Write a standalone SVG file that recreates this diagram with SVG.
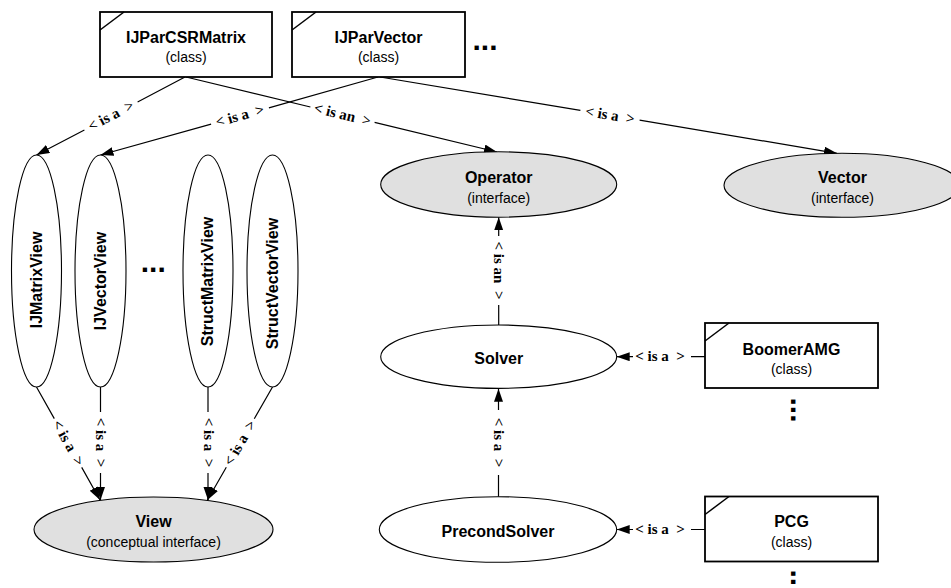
<svg xmlns="http://www.w3.org/2000/svg" width="951" height="588" viewBox="0 0 951 588">
<style>
  .box { fill: #fff; stroke: #000; stroke-width: 1.8; }
  .corner { fill: none; stroke: #000; stroke-width: 1.5; }
  .cls { fill: #fff; stroke: #000; stroke-width: 1.1; }
  .ifc { fill: #e0e0e0; stroke: #000; stroke-width: 1.1; }
  .name { font-family: "Liberation Sans", Arial, sans-serif; font-weight: bold; font-size: 16px; text-anchor: middle; fill: #000; }
  .sub { font-family: "Liberation Sans", Arial, sans-serif; font-size: 14px; text-anchor: middle; fill: #000; }
  .dots { font-family: "Liberation Sans", Arial, sans-serif; font-weight: bold; font-size: 30px; text-anchor: middle; fill: #000; }
  .lbl { font-family: "Liberation Serif", "Times New Roman", serif; font-weight: bold; font-size: 15px; text-anchor: middle; fill: #000; white-space: pre; }
  .edge { fill: none; stroke: #000; stroke-width: 1.2; }
</style>
<defs>
  <marker id="arr" markerUnits="userSpaceOnUse" markerWidth="14" markerHeight="10" refX="13" refY="4.5" orient="auto">
    <path d="M0,0 L13,4.5 L0,9 z" fill="#000"/>
  </marker>
</defs>
<rect width="951" height="588" fill="#fff"/>

<g id="connectors">
  <path class="edge" d="M185,77 L137.6,102 M84.4,130 L36.5,155" marker-end="url(#arr)"/>
  <path class="edge" d="M378,77 L268.9,107.9 M211.1,124.1 L100.5,155" marker-end="url(#arr)"/>
  <path class="edge" d="M186,77 L310.4,107 M374.6,122.4 L497,152" marker-end="url(#arr)"/>
  <path class="edge" d="M380,77 L580.4,110.4 M639.6,120.2 L837,153.3" marker-end="url(#arr)"/>
  <path class="edge" d="M498.7,325 L498.7,305 M498.7,236 L498.7,217.2" marker-end="url(#arr)"/>
  <path class="edge" d="M498.5,496.7 L498.5,475 M498.5,410 L498.5,388.7" marker-end="url(#arr)"/>
  <path class="edge" d="M705,356.7 L691,356.7 M633,356.7 L616.7,356.7" marker-end="url(#arr)"/>
  <path class="edge" d="M705,529.5 L691,529.5 M633,529.5 L616.7,529.5" marker-end="url(#arr)"/>
  <path class="edge" d="M36.5,387 L54.3,418.6 M81.7,467.4 L100,500" marker-end="url(#arr)"/>
  <path class="edge" d="M100.5,387 L100.5,412 M100.5,473 L100.5,500" marker-end="url(#arr)"/>
  <path class="edge" d="M208,387 L208,412 M208,473 L208,500" marker-end="url(#arr)"/>
  <path class="edge" d="M272.5,387 L254.3,418.7 M226.3,467.3 L207.5,500" marker-end="url(#arr)"/>

  <text class="lbl" xml:space="preserve" transform="translate(111,116) rotate(-27.7)" y="4.5">&lt; is a  &gt;</text>
  <text class="lbl" xml:space="preserve" transform="translate(240,116) rotate(-15.7)" y="4.5">&lt; is a  &gt;</text>
  <text class="lbl" xml:space="preserve" transform="translate(342.5,114.7) rotate(13.6)" y="4.5">&lt; is an  &gt;</text>
  <text class="lbl" xml:space="preserve" transform="translate(610,115.3) rotate(9.4)" y="4.5">&lt; is a  &gt;</text>
  <text class="lbl" xml:space="preserve" transform="translate(498.7,270.5) rotate(90)" y="4.5">&lt; is an  &gt;</text>
  <text class="lbl" xml:space="preserve" transform="translate(498.5,442.5) rotate(90)" y="4.5">&lt; is a  &gt;</text>
  <text class="lbl" xml:space="preserve" transform="translate(660,356.7)" y="4.5">&lt; is a  &gt;</text>
  <text class="lbl" xml:space="preserve" transform="translate(660,529.5)" y="4.5">&lt; is a  &gt;</text>
  <text class="lbl" xml:space="preserve" transform="translate(68,443) rotate(60.7)" y="4.5">&lt; is a  &gt;</text>
  <text class="lbl" xml:space="preserve" transform="translate(100.5,442.5) rotate(90)" y="4.5">&lt; is a  &gt;</text>
  <text class="lbl" xml:space="preserve" transform="translate(208,442.5) rotate(90)" y="4.5">&lt; is a  &gt;</text>
  <text class="lbl" xml:space="preserve" transform="translate(240.3,443) rotate(-60.1)" y="4.5">&lt; is a  &gt;</text>
</g>

<g id="IJParCSRMatrix">
  <rect class="box" x="100" y="12" width="172" height="65"/>
  <path class="corner" d="M100,30 L124,12"/>
  <text class="name" x="186" y="42.5">IJParCSRMatrix</text>
  <text class="sub" x="186" y="61.5">(class)</text>
</g>

<g id="IJParVector">
  <rect class="box" x="292" y="12" width="173" height="65"/>
  <path class="corner" d="M292,30 L316,12"/>
  <text class="name" x="378.5" y="42.5">IJParVector</text>
  <text class="sub" x="378.5" y="61.5">(class)</text>
</g>

<g id="more-classes">
  <text class="dots" x="485" y="50">...</text>
</g>

<g id="Operator">
  <ellipse class="ifc" cx="498.7" cy="184.5" rx="118" ry="32.7"/>
  <text class="name" x="498.7" y="183">Operator</text>
  <text class="sub" x="498.7" y="202.5">(interface)</text>
</g>

<g id="Vector">
  <ellipse class="ifc" cx="842" cy="185.3" rx="118" ry="32"/>
  <text class="name" x="842.5" y="183">Vector</text>
  <text class="sub" x="842.5" y="202.5">(interface)</text>
</g>

<g id="IJMatrixView">
  <ellipse class="cls" cx="36.5" cy="271" rx="25" ry="116"/>
  <text class="name" transform="translate(36.5,280) rotate(-90)" y="5.5">IJMatrixView</text>
</g>

<g id="IJVectorView">
  <ellipse class="cls" cx="100.5" cy="271" rx="25.5" ry="116"/>
  <text class="name" transform="translate(100.5,281) rotate(-90)" y="5">IJVectorView</text>
</g>

<g id="more-views">
  <text class="dots" x="153.3" y="272">...</text>
</g>

<g id="StructMatrixView">
  <ellipse class="cls" cx="208" cy="271" rx="25" ry="116"/>
  <text class="name" transform="translate(208,281.5) rotate(-90)" y="5">StructMatrixView</text>
</g>

<g id="StructVectorView">
  <ellipse class="cls" cx="272.5" cy="271" rx="25.5" ry="116"/>
  <text class="name" transform="translate(272.5,283.5) rotate(-90)" y="5">StructVectorView</text>
</g>

<g id="View">
  <ellipse class="ifc" cx="153.5" cy="529.5" rx="119.5" ry="32.5"/>
  <text class="name" x="153.5" y="527">View</text>
  <text class="sub" x="153.5" y="547">(conceptual interface)</text>
</g>

<g id="Solver">
  <ellipse class="cls" cx="498.7" cy="356.7" rx="118" ry="31.7"/>
  <text class="name" x="498.7" y="363.5">Solver</text>
</g>

<g id="PrecondSolver">
  <ellipse class="cls" cx="498" cy="529.5" rx="118.7" ry="32.8"/>
  <text class="name" x="498" y="537">PrecondSolver</text>
</g>

<g id="BoomerAMG">
  <rect class="box" x="705" y="323" width="173" height="65"/>
  <path class="corner" d="M705,341 L729,323"/>
  <text class="name" x="791.5" y="355">BoomerAMG</text>
  <text class="sub" x="791.5" y="374">(class)</text>
  <text class="dots" transform="translate(793,410) rotate(90)" y="2">...</text>
</g>

<g id="PCG">
  <rect class="box" x="705" y="496.5" width="173" height="65"/>
  <path class="corner" d="M705,514.5 L729,496.5"/>
  <text class="name" x="791.5" y="527">PCG</text>
  <text class="sub" x="791.5" y="547">(class)</text>
  <text class="dots" transform="translate(793,582) rotate(90)" y="2">...</text>
</g>
</svg>
